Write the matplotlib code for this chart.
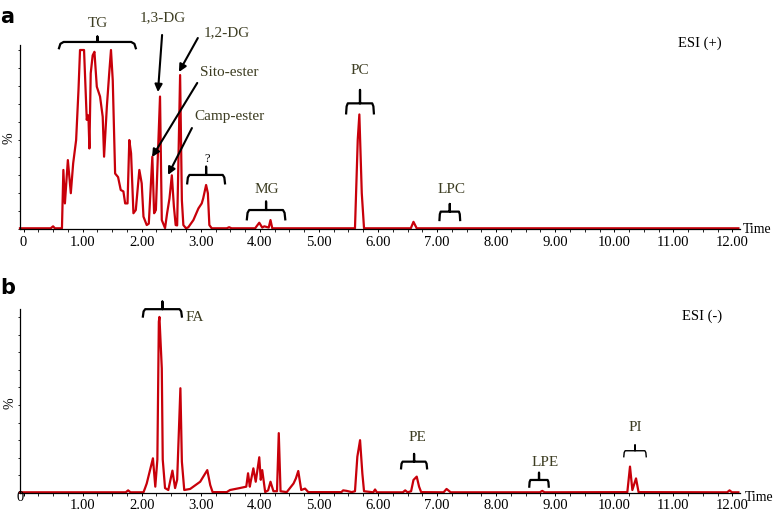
import matplotlib
matplotlib.use("Agg")
import matplotlib.pyplot as plt
from matplotlib.ticker import MultipleLocator, FixedLocator

# chromatogram a (ESI +): retention time (min) and relative intensity (%)
time_a = [-0.06, 0.46, 0.50, 0.53, 0.65, 0.674, 0.70, 0.75, 0.80, 0.84, 0.89, 0.93,
          0.956, 1.024, 1.07, 1.087, 1.10, 1.115, 1.137, 1.17, 1.20, 1.24, 1.295,
          1.34, 1.363, 1.41, 1.45, 1.48, 1.51, 1.55, 1.60, 1.645, 1.69, 1.72, 1.76,
          1.79, 1.82, 1.86, 1.90, 1.96, 2.00, 2.03, 2.085, 2.12, 2.18, 2.21, 2.24,
          2.31, 2.34, 2.395, 2.43, 2.47, 2.51, 2.545, 2.575, 2.60, 2.65, 2.68, 2.705,
          2.75, 2.79, 2.875, 2.96, 3.016, 3.04, 3.09, 3.12, 3.145, 3.185, 3.44, 3.48,
          3.52, 3.92, 3.96, 3.99, 4.04, 4.075, 4.15, 4.18, 4.21, 5.61, 5.657, 5.684,
          5.725, 5.763, 6.555, 6.60, 6.655, 12.10]
int_a = [0.4, 0.4, 1.5, 0.4, 0.4, 33, 14.3, 38.5, 20, 36.7, 49.7, 77.7,
         100, 100, 61, 63.7, 61, 45, 87, 97, 99, 79.5, 74,
         62.7, 40.4, 68.3, 87, 100, 83, 31, 29, 21.8, 21, 14.3, 14.3,
         49.7, 42.3, 8.8, 10.6, 33, 25.5, 6.9, 2.2, 3, 40.4, 8.8, 10.6,
         74, 5, 0.5, 8.8, 17, 30, 12.5, 2.2, 2, 86, 16, 2.2,
         0.4, 1, 5, 11.5, 14.3, 17, 24.6, 20, 2.2, 0.4, 0.4, 1,
         0.4, 0.4, 2.2, 3.5, 0.8, 1.5, 0.8, 5, 0.4, 0.4, 50, 64,
         20, 0.4, 0.4, 4, 0.4, 0.4]

# chromatogram b (ESI -)
time_b = [-0.06, 1.73, 1.77, 1.81, 2.03, 2.056, 2.085, 2.19, 2.23, 2.265, 2.29, 2.30,
          2.34, 2.356, 2.395, 2.45, 2.52, 2.565, 2.60, 2.655, 2.68, 2.72, 2.82, 2.99,
          3.11, 3.16, 3.20, 3.44, 3.495, 3.66, 3.77, 3.80, 3.83, 3.845, 3.89, 3.93,
          3.99, 4.015, 4.04, 4.09, 4.14, 4.18, 4.23, 4.29, 4.32, 4.35, 4.455, 4.57,
          4.61, 4.65, 4.70, 4.765, 4.82, 5.38, 5.41, 5.47, 5.555, 5.61, 5.65, 5.696,
          5.735, 5.763, 5.92, 5.95, 5.98, 6.42, 6.46, 6.50, 6.56, 6.60, 6.655, 6.695,
          6.73, 7.11, 7.16, 7.23, 8.74, 8.78, 8.82, 10.22, 10.265, 10.305, 10.367,
          10.41, 11.91, 11.95, 11.99, 12.10]
int_b = [0.4, 0.4, 1.5, 0.4, 0.4, 2.7, 5.4, 19.7, 3.6, 19, 97.3, 100,
         70.8, 19, 2.8, 1.7, 12.7, 2.8, 7.5, 59.5, 17.8, 1.7, 2.3, 6.4,
         13, 4.5, 0.5, 0.5, 1.7, 2.8, 3.6, 11.2, 3.6, 6.4, 14, 6.4,
         20.3, 7.5, 13, 0.5, 1.5, 6.4, 1, 1, 34, 1, 0.5, 5.4,
         8.3, 12.5, 1.7, 2.5, 0.5, 0.5, 1.5, 1.2, 0.5, 1, 20.6, 30,
         11, 1, 0.4, 2, 0.4, 0.4, 1.5, 0.4, 1, 7.4, 9.3, 3.6,
         0.5, 0.4, 2.3, 0.4, 0.4, 1.2, 0.4, 0.5, 15, 1.7, 8.3,
         0.5, 0.4, 1.5, 0.4, 0.4]

tick_times = list(range(0, 13))
tick_labels = ["0"] + ["%d.00" % i for i in range(1, 13)]

red = "#c8000a"
olive = "#3d3d22"
serif = "Liberation Serif"

W, H = 777, 514
fig = plt.figure(figsize=(W / 100, H / 100), dpi=100)


def px_axes(left, right, top, bottom):
    return fig.add_axes([left / W, (H - bottom) / H, (right - left) / W, (bottom - top) / H])


def setup(ax, ytop, pad):
    ax.set_xlim(-0.06, 12.127)
    ax.set_ylim(0, ytop)
    for s in ["top", "right"]:
        ax.spines[s].set_visible(False)
    for s in ["left", "bottom"]:
        ax.spines[s].set_linewidth(0.9)
    ax.xaxis.set_major_locator(FixedLocator(tick_times))
    ax.xaxis.set_minor_locator(MultipleLocator(0.25))
    ax.set_xticklabels(tick_labels, fontfamily=serif, fontsize=10.5)
    ax.tick_params(axis="x", which="major", length=2.5, width=0.7, pad=pad)
    ax.tick_params(axis="x", which="minor", length=2, width=0.6)
    ax.yaxis.set_major_locator(MultipleLocator(10))
    ax.tick_params(axis="y", which="major", length=1.5, width=0.6, labelleft=False)


def brace(ax, x0, x1, yh, yend, ytop, lw=1.6):
    xc = (x0 + x1) / 2
    d = (x1 - x0) * 0.06
    ax.plot([x0, x0 + d * 0.3, x0 + d, xc - d, xc, xc, xc, xc + d, x1 - d, x1 - d * 0.3, x1],
            [yend, yh - (yh - yend) * 0.3, yh, yh, yh, ytop, yh, yh, yh, yh - (yh - yend) * 0.3, yend],
            color="black", lw=lw, clip_on=False, solid_joinstyle="round")


def label(ax, x, y, s, **kw):
    opts = dict(fontfamily=serif, fontsize=11, color=olive, ha="center", va="center", clip_on=False)
    opts.update(kw)
    ax.text(x, y, s, **opts)


def arrow(ax, xy_tail, xy_head):
    ax.annotate("", xy=xy_head, xytext=xy_tail,
                arrowprops=dict(arrowstyle="-|>", color="black", lw=1.5,
                                mutation_scale=11, shrinkA=0, shrinkB=0))


# ---- panel a ----
axA = px_axes(20, 740, 45, 229)
setup(axA, 102.8, 2.5)
axA.plot(time_a, int_a, color=red, lw=1.6, clip_on=False)

brace(axA, 0.60, 1.90, 104.5, 101, 107.5)
label(axA, 1.26, 115, "TG")
label(axA, 2.36, 118, "1,3-DG")
arrow(axA, (2.345, 108.4), (2.275, 76.5))
label(axA, 3.44, 109.5, "1,2-DG")
arrow(axA, (2.95, 106.7), (2.63, 87.7))
label(axA, 3.49, 87.7, "Sito-ester")
arrow(axA, (2.94, 81.6), (2.175, 40.2))
label(axA, 3.49, 62.6, "Camp-ester")
arrow(axA, (2.85, 56.4), (2.445, 30.2))
brace(axA, 2.77, 3.41, 30.2, 25.5, 34.8)
label(axA, 3.106, 39, "?", fontsize=9, color="black")
brace(axA, 3.78, 4.43, 10.6, 5.4, 15.3)
label(axA, 4.12, 21.8, "MG")
brace(axA, 5.46, 5.93, 70.2, 64.6, 77.7)
label(axA, 5.695, 88.8, "PC")
brace(axA, 7.04, 7.39, 9.7, 5.0, 14.0)
label(axA, 7.25, 21.8, "LPC")
label(axA, 11.45, 104, "ESI (+)", fontsize=10.5, color="black")
label(axA, 12.18, -0.3, "Time", fontsize=10, color="black", ha="left")
label(axA, -0.25, 51, "%", fontsize=10, color="black", rotation=90)
fig.text(7 / W, 1 - 17 / H, "a", fontsize=15, fontweight="bold", fontfamily="DejaVu Sans",
         ha="center", va="center")

# ---- panel b ----
axB = px_axes(20, 740, 309, 493)
setup(axB, 104.5, 2)
labs_b = list(tick_labels)
labs_b[0] = ""
axB.set_xticklabels(labs_b, fontfamily=serif, fontsize=10.5)
axB.plot(time_b, int_b, color=red, lw=1.6, clip_on=False)

brace(axB, 2.02, 2.68, 104.4, 100.2, 108.7)
label(axB, 2.75, 99.4, "FA", ha="left")
brace(axB, 6.39, 6.83, 17.8, 14.0, 22.2)
label(axB, 6.66, 31.3, "PE")
brace(axB, 8.56, 8.89, 7.4, 3.6, 11.5)
label(axB, 8.83, 17.6, "LPE")
brace(axB, 10.16, 10.54, 24.0, 20.6, 27.3, lw=1.0)
label(axB, 10.35, 37, "PI")
label(axB, 11.48, 100.6, "ESI (-)", fontsize=10.5, color="black")
label(axB, 12.2, -2.5, "Time", fontsize=10, color="black", ha="left")
label(axB, -0.05, -2.8, "0", fontsize=10.5, color="black")
label(axB, -0.23, 51, "%", fontsize=10, color="black", rotation=90)
fig.text(8 / W, 1 - 288 / H, "b", fontsize=15, fontweight="bold", fontfamily="DejaVu Sans",
         ha="center", va="center")

fig.savefig("out.png", dpi=100)
